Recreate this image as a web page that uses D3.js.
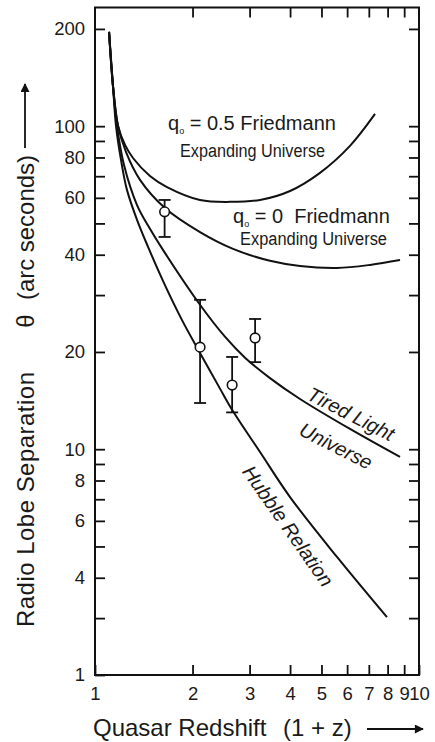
<!DOCTYPE html>
<html>
<head>
<meta charset="utf-8">
<script src="https://cdn.jsdelivr.net/npm/d3@7"></script>
<style>
  html, body { margin: 0; padding: 0; background: #fff; }
  svg { display: block; }
  text { font-family: "Liberation Sans", Arial, Helvetica, sans-serif; fill: #1a1a1a; white-space: pre; }
</style>
</head>
<body>
<svg id="chart" width="435" height="742"></svg>
<script>
// ---------------- DATA ----------------
// x = quasar redshift (1 + z), y = radio lobe separation theta (arc seconds)
const friedmann05X = [1.105, 1.137, 1.178, 1.238, 1.310, 1.478, 1.668, 2.109, 2.611, 3.231, 3.999, 4.948, 6.124, 7.316];
const friedmann05Y = [195.8, 132.3, 100.2, 87.5, 79.7, 70.1, 64.8, 59.1, 58.3, 59.1, 63.0, 71.7, 86.9, 109.1];

const friedmann0X = [1.105, 1.137, 1.178, 1.246, 1.377, 1.644, 2.109, 2.667, 3.468, 4.293, 5.584, 7.062, 8.738];
const friedmann0Y = [195.8, 132.3, 100.2, 83.2, 68.2, 55.8, 47.0, 41.7, 38.3, 36.9, 36.4, 37.2, 38.5];

const tiredLightX = [1.105, 1.137, 1.169, 1.229, 1.348, 1.478, 1.621, 2.109, 2.518, 2.904, 3.468, 4.293, 6.124, 8.738];
const tiredLightY = [195.8, 132.3, 100.2, 75.8, 57.0, 48.1, 41.4, 28.0, 22.3, 19.2, 16.6, 14.3, 11.55, 9.46];

const hubbleX = [1.105, 1.137, 1.161, 1.203, 1.255, 1.348, 1.458, 1.644, 1.856, 2.109, 2.431, 2.667, 3.231, 3.999, 5.584, 7.964];
const hubbleY = [195.8, 132.3, 100.2, 78.6, 63.5, 51.3, 42.3, 32.2, 25.1, 19.86, 15.4, 13.1, 9.80, 7.11, 4.64, 3.02];

// observed quasars with error bars
const obsX    = [1.64, 2.11, 2.65, 3.12];
const obsY    = [54.3, 20.7, 15.8, 22.1];
const obsLow  = [45.4, 13.9, 13.0, 18.6];
const obsHigh = [59.1, 29.0, 19.3, 25.3];

// axes
const xTickValues   = [1, 2, 3, 4, 5, 6, 7, 8, 9, 10];
const xTickLabels   = ["1", "2", "3", "4", "5", "6", "7", "8", "9", "10"];
const yTickValues   = [3, 4, 5, 6, 7, 8, 9, 10, 20, 30, 40, 50, 60, 70, 80, 90, 100, 200];
const yLabelValues  = [4, 6, 8, 10, 20, 40, 60, 80, 100, 200];
const yBottomLabel  = "1";          // the reference labels the bottom edge "1"
const xDomain = [1, 10];
const yDomain = [2, 233];

// ---------------- LAYOUT ----------------
const L = 95, R = 419, T = 7.5, B = 675;
const svg = d3.select("#chart");
const ink = "#111";

const x = d3.scaleLog().domain(xDomain).range([L, R]);
const y = d3.scaleLog().domain(yDomain).range([B, T]);

function styleAxis(g) {
  g.select(".domain").remove();
  g.selectAll(".tick line").attr("stroke", ink).attr("stroke-width", 1.8);
  g.selectAll(".tick text").attr("font-size", 18.5).attr("fill", "#1a1a1a")
    .attr("font-family", '"Liberation Sans", Arial, sans-serif');
}

svg.append("g").attr("transform", `translate(${L},0)`)
  .call(d3.axisLeft(y).tickValues([yDomain[0], ...yTickValues]).tickSize(-10).tickPadding(10)
    .tickFormat(d => d === yDomain[0] ? yBottomLabel : (yLabelValues.includes(d) ? String(d) : "")))
  .call(styleAxis);

svg.append("g").attr("transform", `translate(${R},0)`)
  .call(d3.axisRight(y).tickValues(yTickValues).tickSize(-10).tickFormat(""))
  .call(styleAxis);

svg.append("g").attr("transform", `translate(0,${B})`)
  .call(d3.axisBottom(x).tickValues(xTickValues).tickSize(-10).tickPadding(12)
    .tickFormat((d, i) => xTickLabels[i]))
  .call(styleAxis);

svg.append("g").attr("transform", `translate(0,${T})`)
  .call(d3.axisTop(x).tickValues(xTickValues.slice(1, -1)).tickSize(-10).tickFormat(""))
  .call(styleAxis);

// frame
svg.append("rect").attr("x", L).attr("y", T).attr("width", R - L).attr("height", B - T)
  .attr("fill", "none").attr("stroke", ink).attr("stroke-width", 2);

// curves
const line = d3.line().x(d => x(d[0])).y(d => y(d[1])).curve(d3.curveCatmullRom.alpha(0.5));
const curves = [
  [friedmann05X, friedmann05Y],
  [friedmann0X, friedmann0Y],
  [tiredLightX, tiredLightY],
  [hubbleX, hubbleY]
];
curves.forEach(([xs, ys]) => {
  svg.append("path").datum(xs.map((v, i) => [v, ys[i]]))
    .attr("d", line).attr("fill", "none").attr("stroke", ink).attr("stroke-width", 2);
});

// observations
const obs = obsX.map((v, i) => ({ x: v, y: obsY[i], lo: obsLow[i], hi: obsHigh[i] }));
const og = svg.append("g");
og.selectAll("line.bar").data(obs).join("line").attr("class", "bar")
  .attr("x1", d => x(d.x)).attr("x2", d => x(d.x))
  .attr("y1", d => y(d.lo)).attr("y2", d => y(d.hi))
  .attr("stroke", ink).attr("stroke-width", 1.8);
["lo", "hi"].forEach(k => {
  og.selectAll("line.cap" + k).data(obs).join("line").attr("class", "cap" + k)
    .attr("x1", d => x(d.x) - 6).attr("x2", d => x(d.x) + 6)
    .attr("y1", d => y(d[k])).attr("y2", d => y(d[k]))
    .attr("stroke", ink).attr("stroke-width", 1.8);
});
og.selectAll("circle").data(obs).join("circle")
  .attr("cx", d => x(d.x)).attr("cy", d => y(d.y)).attr("r", 4.8)
  .attr("fill", "#fff").attr("stroke", ink).attr("stroke-width", 1.6);

// curve labels
function qLabel(px, py, rest) {
  const t = svg.append("text").attr("x", px).attr("y", py).attr("font-size", 20);
  t.append("tspan").text("q");
  t.append("tspan").text("o").attr("font-size", 9).attr("dy", 4);
  t.append("tspan").text(rest).attr("dy", -4);
}
function subLabel(px, py, str, len) {
  svg.append("text").attr("x", px).attr("y", py).attr("font-size", 18)
    .attr("textLength", len).attr("lengthAdjust", "spacingAndGlyphs").text(str);
}
qLabel(168, 130, " = 0.5 Friedmann");
subLabel(180, 157, "Expanding Universe", 145);
qLabel(233, 223, " = 0  Friedmann");
subLabel(240, 245, "Expanding Universe", 147);

function rotLabel(cx, cy, ang, str) {
  svg.append("text").attr("transform", `translate(${cx},${cy}) rotate(${ang})`)
    .attr("text-anchor", "middle").attr("dy", "0.35em")
    .attr("font-size", 20).attr("font-style", "italic").text(str);
}
rotLabel(351, 414, 27, "Tired Light");
rotLabel(336, 446, 27, "Universe");
rotLabel(288, 526, 55, "Hubble Relation");

// axis titles
const arrowDefs = svg.append("defs");
arrowDefs.append("marker").attr("id", "ah").attr("viewBox", "0 0 10 10").attr("refX", 9).attr("refY", 5)
  .attr("markerWidth", 11).attr("markerHeight", 9).attr("markerUnits", "userSpaceOnUse").attr("orient", "auto")
  .append("path").attr("d", "M0,0 L10,5 L0,10 Z").attr("fill", ink);

svg.append("text").attr("x", 93).attr("y", 736).attr("font-size", 24).text("Quasar Redshift");
svg.append("text").attr("x", 283).attr("y", 736).attr("font-size", 24).text("(1 + z)");
svg.append("line").attr("x1", 367).attr("x2", 423).attr("y1", 729).attr("y2", 729)
  .attr("stroke", ink).attr("stroke-width", 1.8).attr("marker-end", "url(#ah)");

const yt = svg.append("g").attr("transform", "translate(34,0)");
yt.append("text").attr("transform", "translate(0,627) rotate(-90)").attr("font-size", 24)
  .attr("textLength", 255).attr("lengthAdjust", "spacing").text("Radio Lobe Separation");
yt.append("text").attr("transform", "translate(0,321) rotate(-90)").attr("text-anchor", "middle").attr("font-size", 24).text("θ");
yt.append("text").attr("transform", "translate(0,300) rotate(-90)").attr("font-size", 24)
  .attr("textLength", 145).attr("lengthAdjust", "spacing").text("(arc seconds)");
svg.append("line").attr("x1", 25).attr("x2", 25).attr("y1", 148).attr("y2", 84)
  .attr("stroke", ink).attr("stroke-width", 1.8).attr("marker-end", "url(#ah)");
</script>
</body>
</html>
